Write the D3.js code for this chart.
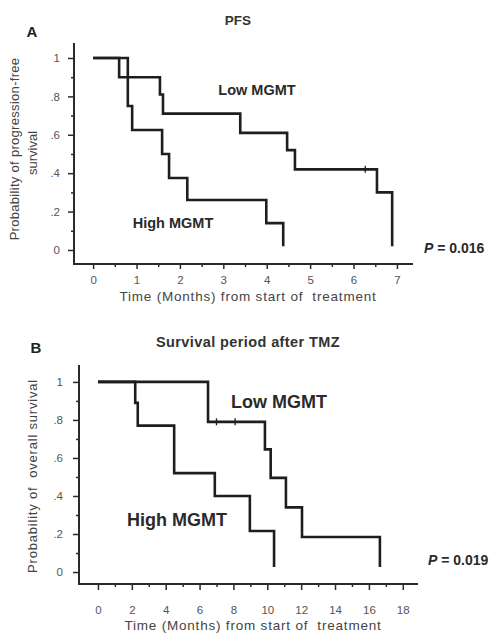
<!DOCTYPE html>
<html>
<head>
<meta charset="utf-8">
<script src="https://cdn.jsdelivr.net/npm/d3@7"></script>
<style>
  html, body { margin: 0; padding: 0; background: #fff; }
  svg { display: block; font-family: "Liberation Sans", Arial, sans-serif; }
</style>
</head>
<body>
<svg id="chart" width="491" height="635"></svg>
<script>
// ---------------- DATA ----------------
// Panel A: Progression-free survival (months)
const pfsLowTimes   = [0, 0.60, 1.54, 1.61, 3.39, 4.47, 4.65, 6.54, 6.89];
const pfsLowValues  = [1, 0.90, 0.81, 0.71, 0.61, 0.52, 0.42, 0.30, 0.02];
const pfsLowCensorTimes  = [6.27];
const pfsLowCensorValues = [0.42];

const pfsHighTimes  = [0, 0.80, 0.90, 1.59, 1.75, 2.17, 3.99, 4.38];
const pfsHighValues = [1, 0.75, 0.625, 0.50, 0.375, 0.26, 0.14, 0.02];

const pfsXTicks = [0, 1, 2, 3, 4, 5, 6, 7];
const pfsXMinor = [0.5, 1.5, 2.5, 3.5, 4.5, 5.5, 6.5];

// Panel B: Overall survival after TMZ (months)
const osLowTimes   = [0, 6.50, 9.86, 10.20, 11.10, 12.05, 16.65];
const osLowValues  = [1, 0.79, 0.645, 0.495, 0.34, 0.184, 0.026];
const osLowCensorTimes  = [7.0, 8.1];
const osLowCensorValues = [0.79, 0.79];

const osHighTimes  = [0, 2.20, 2.35, 4.50, 6.90, 8.97, 10.40];
const osHighValues = [1, 0.89, 0.77, 0.52, 0.40, 0.216, 0.026];

const osXTicks = [0, 2, 4, 6, 8, 10, 12, 14, 16, 18];
const osXMinor = [1, 3, 5, 7, 9, 11, 13, 15, 17];

const yTicks = [0, 0.2, 0.4, 0.6, 0.8, 1];
const yTickLabels = ["0", ".2", ".4", ".6", ".8", "1"];
const yMinor = [0.1, 0.3, 0.5, 0.7, 0.9];

// ---------------- DRAW ----------------
const svg = d3.select("#chart");
const lineColor = "#1e1e1e";
const axisColor = "#2a2a2a";
const tickTextColor = "#555";

function panel(cfg) {
  const g = svg.append("g");
  const x = d3.scaleLinear().domain(cfg.xDomain).range(cfg.xRange);
  const y = d3.scaleLinear().domain(cfg.yDomain).range(cfg.yRange);
  const xAxisY = cfg.yRange[0];
  const yAxisX = cfg.xRange[0];

  // Y axis major
  const yAx = g.append("g").attr("transform", `translate(${yAxisX},0)`)
    .call(d3.axisLeft(y).tickValues(yTicks)
      .tickFormat((d, i) => yTickLabels[i]).tickSize(6).tickPadding(cfg.yPad).tickSizeOuter(0));
  yAx.select(".domain").remove();
  // Y minor
  g.append("g").attr("transform", `translate(${yAxisX},0)`)
    .call(d3.axisLeft(y).tickValues(yMinor).tickFormat("").tickSize(3).tickSizeOuter(0))
    .select(".domain").remove();
  // X axis major
  const xAx = g.append("g").attr("transform", `translate(0,${xAxisY})`)
    .call(d3.axisBottom(x).tickValues(cfg.xTicks).tickFormat(d3.format("d"))
      .tickSize(cfg.xTickSize).tickPadding(cfg.xPad).tickSizeOuter(0));
  xAx.select(".domain").remove();
  g.append("g").attr("transform", `translate(0,${xAxisY})`)
    .call(d3.axisBottom(x).tickValues(cfg.xMinor).tickFormat("").tickSize(3).tickSizeOuter(0))
    .select(".domain").remove();

  g.selectAll(".tick line").attr("stroke", axisColor).attr("stroke-width", 1.5);
  g.selectAll(".tick text").attr("fill", tickTextColor)
    .style("font-size", "11.5px").style("font-family", "'Liberation Sans', Arial, sans-serif");

  // axis lines
  g.append("line").attr("x1", yAxisX).attr("x2", yAxisX)
    .attr("y1", cfg.yRange[1]).attr("y2", xAxisY + 1)
    .attr("stroke", axisColor).attr("stroke-width", 2);
  g.append("line").attr("x1", yAxisX - 1).attr("x2", cfg.xRange[1])
    .attr("y1", xAxisY).attr("y2", xAxisY)
    .attr("stroke", axisColor).attr("stroke-width", 2);

  const line = d3.line().x(d => x(d[0])).y(d => y(d[1])).curve(d3.curveStepAfter);
  cfg.curves.forEach(c => {
    const pts = c.t.map((t, i) => [t, c.v[i]]);
    g.append("path").attr("d", line(pts)).attr("fill", "none")
      .attr("stroke", lineColor).attr("stroke-width", 2.6)
      .attr("stroke-linejoin", "miter").attr("stroke-linecap", "butt");
    if (c.ct) {
      c.ct.forEach((t, i) => {
        g.append("line").attr("x1", x(t)).attr("x2", x(t))
          .attr("y1", y(c.cv[i]) - 3.5).attr("y2", y(c.cv[i]) + 3.5)
          .attr("stroke", lineColor).attr("stroke-width", 1.3);
      });
    }
  });

  // labels
  cfg.labels.forEach(l => {
    const t = g.append("text").attr("x", l.x).attr("y", l.y)
      .attr("text-anchor", l.anchor || "middle")
      .attr("fill", l.color || "#2a2a2a")
      .style("font-size", l.size + "px")
      .style("font-weight", l.bold ? "bold" : "normal")
      .style("letter-spacing", (l.ls || 0) + "px")
      .style("white-space", "pre");
    if (l.rotate) t.attr("transform", `rotate(-90,${l.x},${l.y})`);
    if (l.pval) {
      t.append("tspan").style("font-style", "italic").text("P");
      t.append("tspan").text(" = " + l.pval);
    } else {
      t.text(l.text);
    }
  });
}

panel({
  xDomain: [-0.44, 7.37], xRange: [74, 413],
  yDomain: [-0.073, 1.078], yRange: [264, 43],
  xTicks: pfsXTicks, xMinor: pfsXMinor, xTickSize: 5, xPad: 7, yPad: 8,
  curves: [
    { t: pfsLowTimes, v: pfsLowValues, ct: pfsLowCensorTimes, cv: pfsLowCensorValues },
    { t: pfsHighTimes, v: pfsHighValues }
  ],
  labels: [
    { text: "A", x: 32, y: 37, size: 15, bold: true, color: "#222" },
    { text: "PFS", x: 238, y: 25, size: 13.5, bold: true, color: "#333" },
    { text: "Low MGMT", x: 257, y: 95, size: 14.5, bold: true },
    { text: "High MGMT", x: 173, y: 228, size: 14.5, bold: true },
    { pval: "0.016", x: 424, y: 253, size: 14, bold: true, anchor: "start" },
    { text: "Time (Months) from start of  treatment", x: 248, y: 301, size: 13.5, ls: 0.8, color: "#444" },
    { text: "Probability of progression-free", x: 19, y: 149, size: 13, ls: 0.3, rotate: true, color: "#444" },
    { text: "survival", x: 37, y: 153, size: 13, rotate: true, color: "#444" }
  ]
});

panel({
  xDomain: [-1.12, 18.9], xRange: [79, 418],
  yDomain: [-0.063, 1.089], yRange: [584, 365],
  xTicks: osXTicks, xMinor: osXMinor, xTickSize: 6, xPad: 16, yPad: 10,
  curves: [
    { t: osLowTimes, v: osLowValues, ct: osLowCensorTimes, cv: osLowCensorValues },
    { t: osHighTimes, v: osHighValues }
  ],
  labels: [
    { text: "B", x: 36, y: 353, size: 15, bold: true, color: "#222" },
    { text: "Survival period after TMZ", x: 248, y: 347, size: 14.5, ls: 0.4, bold: true, color: "#333" },
    { text: "Low MGMT", x: 279, y: 408, size: 18, bold: true },
    { text: "High MGMT", x: 177, y: 526, size: 18, bold: true },
    { pval: "0.019", x: 428, y: 565, size: 14, bold: true, anchor: "start" },
    { text: "Time (Months) from start of  treatment", x: 253, y: 630, size: 13.5, ls: 0.8, color: "#444" },
    { text: "Probability of  overall survival", x: 37, y: 476, size: 13, ls: 0.8, rotate: true, color: "#444" }
  ]
});
</script>
</body>
</html>
